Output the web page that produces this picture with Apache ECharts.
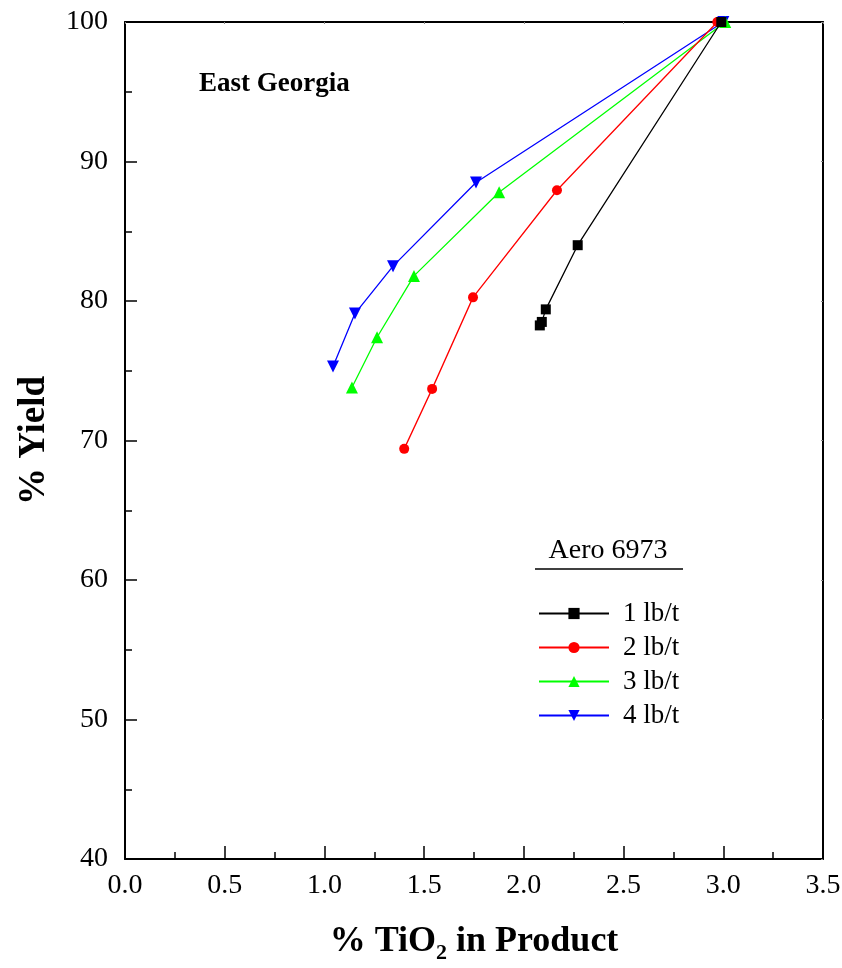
<!DOCTYPE html>
<html>
<head>
<meta charset="utf-8">
<script src="https://cdn.jsdelivr.net/npm/echarts@6/dist/echarts.min.js"></script>
<style>html,body{margin:0;padding:0;background:#fff}#c{width:842px;height:968px}</style>
</head>
<body>
<div id="c"></div>
<script>
const seriesNames = ['1 lb/t', '2 lb/t', '3 lb/t', '4 lb/t'];
const tio2_1 = [2.08, 2.09, 2.11, 2.27, 2.99];
const yield_1 = [78.25, 78.5, 79.4, 84.0, 100];
const tio2_2 = [1.40, 1.54, 1.745, 2.166, 2.97];
const yield_2 = [69.4, 73.7, 80.26, 87.94, 100];
const tio2_3 = [1.138, 1.264, 1.449, 1.876, 3.01];
const yield_3 = [73.8, 77.4, 81.8, 87.8, 100];
const tio2_4 = [1.043, 1.153, 1.344, 1.76, 3.0];
const yield_4 = [75.3, 79.1, 82.5, 88.5, 100];
const xTicks = ['0.0','0.5','1.0','1.5','2.0','2.5','3.0','3.5'];
const yTicks = ['40','50','60','70','80','90','100'];

const xs = [tio2_1, tio2_2, tio2_3, tio2_4];
const ys = [yield_1, yield_2, yield_3, yield_4];
const colors = ['#000000', '#ff0000', '#00ff00', '#0000ff'];
const symbols = ['rect', 'circle', 'triangle', 'path://M0,0 L10,0 L5,9 Z'];
const sizes = [10, 10, 12, 12];
const FONT = '"Liberation Serif", "Times New Roman", serif';

const chart = echarts.init(document.getElementById('c'), null, {renderer: 'canvas'});
const series = xs.map((x, i) => ({
  name: seriesNames[i],
  type: 'line',
  data: x.map((v, j) => [v, ys[i][j]]),
  symbol: symbols[i],
  symbolSize: sizes[i],
  showAllSymbol: true,
  lineStyle: {color: colors[i], width: 1.3},
  itemStyle: {color: colors[i]},
  z: 10 - i
}));

const axisLine = {show: true, onZero: false, lineStyle: {color: '#000', width: 2}};
chart.setOption({
  animation: false,
  backgroundColor: '#fff',
  grid: {left: 125, right: 19, top: 22, bottom: 109, containLabel: false, outerBoundsMode: 'none'},
  xAxis: [{
    type: 'value', min: 0, max: 3.5, interval: 0.5,
    axisLine: axisLine,
    axisTick: {show: true, inside: true, length: 13, lineStyle: {color: '#000', width: 1.5}},
    minorTick: {show: true, splitNumber: 2, length: 7, lineStyle: {color: '#000', width: 1.5}},
    splitLine: {show: false},
    axisLabel: {margin: 13, color: '#000', fontFamily: FONT, fontSize: 28, formatter: (v) => xTicks[Math.round(v / 0.5)]},
    name: '{a|% TiO}{s|2}{a| in Product}',
    nameLocation: 'middle', nameGap: 61,
    nameTextStyle: {rich: {
      a: {fontFamily: FONT, fontSize: 36, fontWeight: 'bold', color: '#000'},
      s: {fontFamily: FONT, fontSize: 22, fontWeight: 'bold', color: '#000', padding: [22, 0, 0, 0]}
    }}
  }, {
    type: 'value', position: 'top', min: 0, max: 3.5, interval: 0.5,
    axisLine: axisLine,
    axisTick: {show: true, inside: true, length: 2, lineStyle: {color: '#888'}},
    axisLabel: {show: false}, splitLine: {show: false}
  }],
  yAxis: [{
    type: 'value', min: 40, max: 100, interval: 10,
    axisLine: axisLine,
    axisTick: {show: true, inside: true, length: 12, lineStyle: {color: '#000', width: 1.5}},
    minorTick: {show: true, splitNumber: 2, length: 7, lineStyle: {color: '#000', width: 1.5}},
    splitLine: {show: false},
    axisLabel: {margin: 17, color: '#000', fontFamily: FONT, fontSize: 28, formatter: (v) => yTicks[Math.round((v - 40) / 10)]},
    name: '% Yield', nameLocation: 'middle', nameGap: 72, nameRotate: 90,
    nameTextStyle: {fontFamily: FONT, fontSize: 37, fontWeight: 'bold', color: '#000'}
  }, {
    type: 'value', position: 'right', min: 40, max: 100, interval: 10,
    axisLine: axisLine,
    axisTick: {show: true, inside: true, length: 2, lineStyle: {color: '#888'}},
    axisLabel: {show: false}, splitLine: {show: false}
  }],
  legend: {
    data: seriesNames,
    orient: 'vertical', left: 533, top: 595,
    itemWidth: 70, itemHeight: 14, itemGap: 7,
    textStyle: {fontFamily: FONT, fontSize: 27, color: '#000', padding: [0, 0, 0, 9]},
    inactiveColor: '#ccc'
  },
  graphic: [
    {type: 'text', left: 199, top: 71, style: {text: 'East Georgia', font: 'bold 27px ' + FONT, fill: '#000'}},
    {type: 'text', x: 608, y: 551, style: {text: 'Aero 6973', font: '28px ' + FONT, fill: '#000', textAlign: 'center', textVerticalAlign: 'middle'}},
    {type: 'line', shape: {x1: 535, y1: 569, x2: 683, y2: 569}, style: {stroke: '#000', lineWidth: 1.5}}
  ],
  series: series
});
</script>
</body>
</html>
